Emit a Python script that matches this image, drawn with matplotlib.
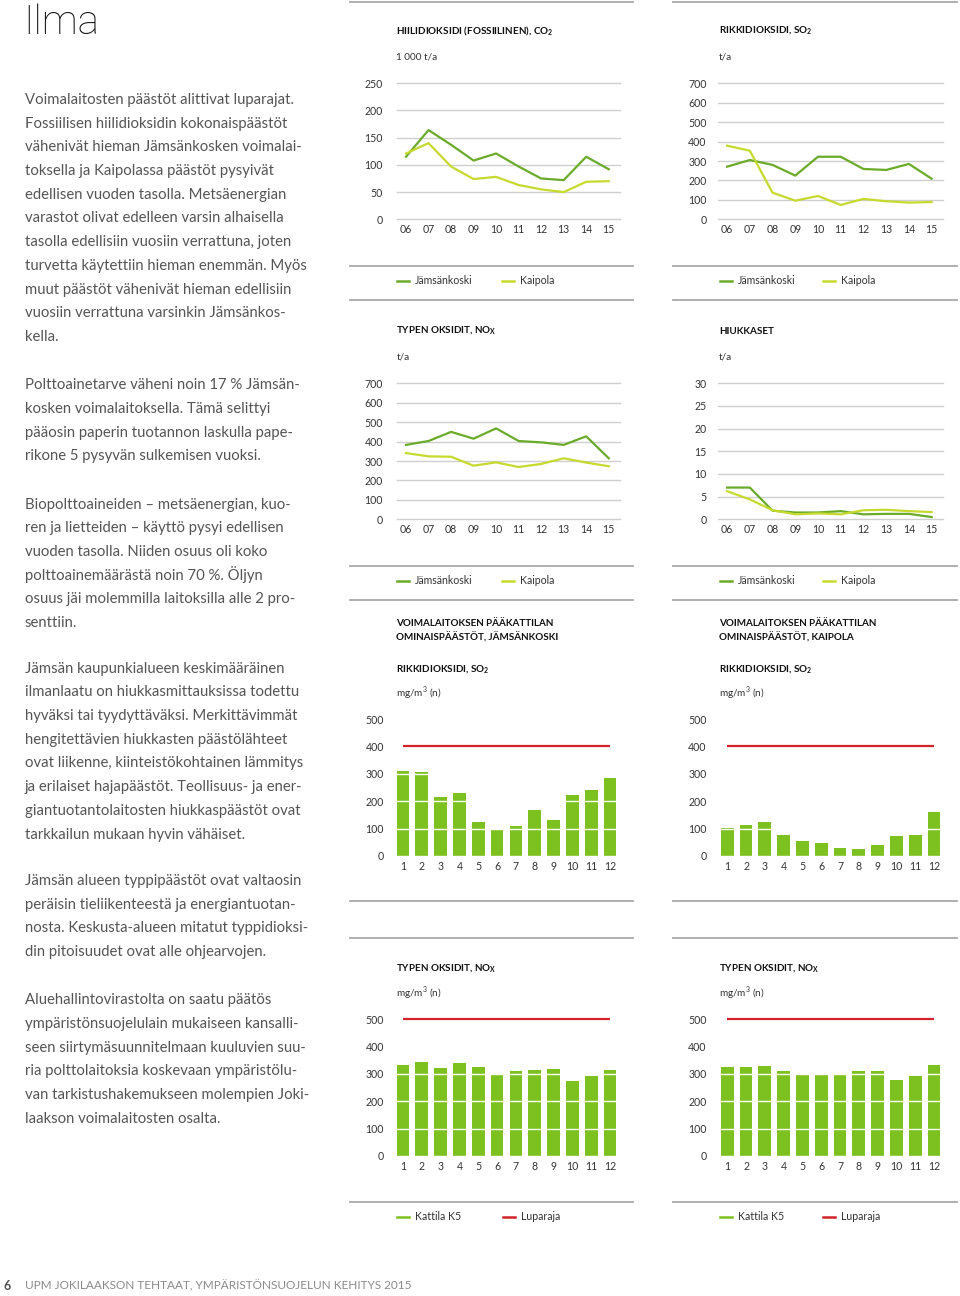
import matplotlib.pyplot as plt
from matplotlib.lines import Line2D
import numpy as np

plt.rcParams['font.family'] = ['Lato', 'DejaVu Sans']

# --- data ---
years = ['06', '07', '08', '09', '10', '11', '12', '13', '14', '15']
months = [str(m) for m in range(1, 13)]

co2_jamsankoski = [115, 164, 137, 108, 121, 97, 75, 72, 115, 92]
co2_kaipola = [121, 140, 97, 74, 78, 63, 55, 50, 69, 70]
so2_jamsankoski = [271, 305, 280, 225, 322, 322, 259, 254, 285, 209]
so2_kaipola = [379, 353, 137, 96, 120, 74, 105, 93, 86, 89]
nox_jamsankoski = [383, 403, 450, 415, 468, 403, 396, 383, 427, 314]
nox_kaipola = [341, 324, 322, 276, 293, 269, 285, 314, 292, 273]
hiuk_jamsankoski = [7.0, 7.0, 1.9, 1.5, 1.5, 1.8, 1.1, 1.2, 1.2, 0.5]
hiuk_kaipola = [6.2, 4.4, 2.0, 1.1, 1.3, 1.1, 2.0, 2.1, 1.8, 1.6]

so2_k5_jamsankoski = [310, 308, 217, 229, 124, 97, 109, 167, 131, 221, 242, 286]
so2_k5_kaipola = [102, 112, 125, 75, 54, 47, 28, 24, 39, 72, 75, 161]
nox_k5_jamsankoski = [332, 343, 321, 338, 326, 299, 310, 315, 319, 273, 291, 314]
nox_k5_kaipola = [326, 324, 328, 310, 300, 300, 296, 309, 311, 276, 292, 333]
so2_luparaja = 400
nox_luparaja = 500

p1 = ["Voimalaitosten päästöt alittivat luparajat.",
      "Fossiilisen hiilidioksidin kokonaispäästöt",
      "vähenivät hieman Jämsänkosken voimalai-",
      "toksella ja Kaipolassa päästöt pysyivät",
      "edellisen vuoden tasolla. Metsäenergian",
      "varastot olivat edelleen varsin alhaisella",
      "tasolla edellisiin vuosiin verrattuna, joten",
      "turvetta käytettiin hieman enemmän. Myös",
      "muut päästöt vähenivät hieman edellisiin",
      "vuosiin verrattuna varsinkin Jämsänkos-",
      "kella."]
p2 = ["Polttoainetarve väheni noin 17 % Jämsän-",
      "kosken voimalaitoksella. Tämä selittyi",
      "pääosin paperin tuotannon laskulla pape-",
      "rikone 5 pysyvän sulkemisen vuoksi."]
p3 = ["Biopolttoaineiden – metsäenergian, kuo-",
      "ren ja lietteiden – käyttö pysyi edellisen",
      "vuoden tasolla. Niiden osuus oli koko",
      "polttoainemäärästä noin 70 %. Öljyn",
      "osuus jäi molemmilla laitoksilla alle 2 pro-",
      "senttiin."]
p4 = ["Jämsän kaupunkialueen keskimääräinen",
      "ilmanlaatu on hiukkasmittauksissa todettu",
      "hyväksi tai tyydyttäväksi. Merkittävimmät",
      "hengitettävien hiukkasten päästölähteet",
      "ovat liikenne, kiinteistökohtainen lämmitys",
      "ja erilaiset hajapäästöt. Teollisuus- ja ener-",
      "giantuotantolaitosten hiukkaspäästöt ovat",
      "tarkkailun mukaan hyvin vähäiset."]
p5 = ["Jämsän alueen typpipäästöt ovat valtaosin",
      "peräisin tieliikenteestä ja energiantuotan-",
      "nosta. Keskusta-alueen mitatut typpidioksi-",
      "din pitoisuudet ovat alle ohjearvojen."]
p6 = ["Aluehallintovirastolta on saatu päätös",
      "ympäristönsuojelulain mukaiseen kansalli-",
      "seen siirtymäsuunnitelmaan kuuluvien suu-",
      "ria polttolaitoksia koskevaan ympäristölu-",
      "van tarkistushakemukseen molempien Joki-",
      "laakson voimalaitosten osalta."]

DARK = '#6aab2a'
LIME = '#c6da2e'
BAR = '#7cc11f'
RED = '#d2232a'
GRID = '#cfcfcf'
SEP = '#a9a9a9'
TXT = '#333333'

W, H = 960, 1296
fig = plt.figure(figsize=(9.6, 12.96), dpi=100)


def fx(x):
    return x / W


def fy(y):
    return 1 - y / H


def txt(x, y, s, **kw):
    kw.setdefault('va', 'center')
    kw.setdefault('ha', 'left')
    fig.text(fx(x), fy(y), s, **kw)


def hline(x0, x1, y, color=SEP, lw=1.3):
    fig.add_artist(Line2D([fx(x0), fx(x1)], [fy(y), fy(y)], color=color, lw=lw))


def make_axes(x0, x1, ytop, ybot, ypad_px, xpad_px=5):
    ax = fig.add_axes([fx(x0), fy(ybot), (x1 - x0) / W, (ybot - ytop) / H])
    for sp in ax.spines.values():
        sp.set_visible(False)
    ax.patch.set_alpha(0)
    ax.tick_params(length=0, labelsize=7.6, colors=TXT)
    ax.tick_params(axis='y', pad=ypad_px / 1.389)
    ax.tick_params(axis='x', pad=xpad_px / 1.389)
    return ax


def line_chart(x0, x1, ytop, ybot, ypad, s1, s2, ymax, step):
    ax = make_axes(x0, x1, ytop, ybot, ypad)
    xs = np.arange(len(years))
    ax.plot(xs, s1, color=DARK, lw=1.6, clip_on=False, zorder=3)
    ax.plot(xs, s2, color=LIME, lw=1.6, clip_on=False, zorder=3)
    ax.set_xlim(-0.4, 9.5)
    ax.set_ylim(0, ymax)
    ax.set_yticks(np.arange(0, ymax + 1, step))
    ax.set_xticks(xs, years)
    ax.set_axisbelow(True)
    ax.grid(axis='y', color=GRID, lw=1.0)
    ax.grid(axis='x', visible=False)
    for g in ax.get_ygridlines():
        g.set_clip_on(False)
    return ax


def bar_chart(x0, x1, ytop, ybot, ypad, vals, limit):
    ax = make_axes(x0, x1, ytop, ybot, ypad, xpad_px=5.5)
    xs = np.arange(1, 13)
    ax.bar(xs, vals, width=0.68, color=BAR, zorder=1)
    ax.hlines(limit, 1, 12, color=RED, lw=1.6, zorder=5, clip_on=False)
    ax.set_xlim(0.5, 12.5)
    ax.set_ylim(0, 500)
    ax.set_yticks(np.arange(0, 501, 100))
    ax.set_xticks(xs, months)
    ax.set_axisbelow(False)
    ax.grid(axis='y', color='white', lw=1.0)
    ax.grid(axis='x', visible=False)
    return ax


def legend(y, items):
    for x, color, label in items:
        hline(x, x + 12, y, color=color, lw=1.8)
        txt(x + 18, y, label, fontsize=7.6, color=TXT)


# --- left text column ---
txt(23, 23, "Ilma", fontsize=29, color='#111111', fontweight='light',
    family=['Roboto', 'Lato', 'DejaVu Sans'])

body = dict(fontsize=10.7, color='#555555', va='baseline')
for lines, base in [(p1, 104), (p2, 389.3), (p3, 508.7), (p4, 672.7), (p5, 885), (p6, 1004.3)]:
    for i, s in enumerate(lines):
        txt(25, base + i * 23.7, s, **body)

txt(3, 1286, "6", fontsize=9, color='#555555', fontweight='bold')
txt(25, 1286, "UPM JOKILAAKSON TEHTAAT, YMPÄRISTÖNSUOJELUN KEHITYS 2015",
    fontsize=8.5, color='#8a8a8a')

# --- separators ---
for y in [2, 266, 300, 566, 600, 901, 938, 1202]:
    hline(350, 633, y)
    hline(673, 957, y)

title = dict(fontsize=7.1, fontweight='bold', color='#111111')
unit = dict(fontsize=7.2, color=TXT)

# chart 1: CO2
txt(396.5, 31, "HIILIDIOKSIDI (FOSSIILINEN), CO$_\\mathregular{2}$", **title)
txt(396.5, 57, "1 000 t/a", **unit)
line_chart(397, 620, 83.3, 219.3, 14, co2_jamsankoski, co2_kaipola, 250, 50)
legend(281, [(397, DARK, "Jämsänkoski"), (502, LIME, "Kaipola")])

# chart 2: SO2
txt(719, 31, "RIKKIDIOKSIDI, SO$_\\mathregular{2}$", **title)
txt(719, 57, "t/a", **unit)
line_chart(718, 943, 83.3, 219.3, 11.3, so2_jamsankoski, so2_kaipola, 700, 100)
legend(281, [(720, DARK, "Jämsänkoski"), (823, LIME, "Kaipola")])

# chart 3: NOx
txt(396.5, 331, "TYPEN OKSIDIT, NO$_\\mathregular{X}$", **title)
txt(396.5, 357, "t/a", **unit)
line_chart(397, 620, 383.3, 519.3, 14, nox_jamsankoski, nox_kaipola, 700, 100)
legend(581, [(397, DARK, "Jämsänkoski"), (502, LIME, "Kaipola")])

# chart 4: hiukkaset
txt(719, 331, "HIUKKASET", **title)
txt(719, 357, "t/a", **unit)
line_chart(718, 943, 383.3, 519.3, 11.3, hiuk_jamsankoski, hiuk_kaipola, 30, 5)
legend(581, [(720, DARK, "Jämsänkoski"), (823, LIME, "Kaipola")])

# chart 5/6: SO2 bars
for x, name in [(396.5, "JÄMSÄNKOSKI"), (719, "KAIPOLA")]:
    txt(x, 623, "VOIMALAITOKSEN PÄÄKATTILAN", **title)
    txt(x, 637, "OMINAISPÄÄSTÖT, " + name, **title)
    txt(x, 670, "RIKKIDIOKSIDI, SO$_\\mathregular{2}$", **title)
    txt(x, 693, "mg/m$^\\mathregular{3}$ (n)", **unit)
bar_chart(393.6, 619.4, 719, 856, 9.6, so2_k5_jamsankoski, so2_luparaja)
bar_chart(717.9, 943.4, 719, 856, 11.2, so2_k5_kaipola, so2_luparaja)

# chart 7/8: NOx bars
for x in [396.5, 719]:
    txt(x, 969, "TYPEN OKSIDIT, NO$_\\mathregular{X}$", **title)
    txt(x, 993, "mg/m$^\\mathregular{3}$ (n)", **unit)
bar_chart(393.6, 619.4, 1019, 1156, 9.6, nox_k5_jamsankoski, nox_luparaja)
bar_chart(717.9, 943.4, 1019, 1156, 11.2, nox_k5_kaipola, nox_luparaja)

legend(1217, [(397, BAR, "Kattila K5"), (503, RED, "Luparaja")])
legend(1217, [(720, BAR, "Kattila K5"), (823, RED, "Luparaja")])

plt.savefig('out.png', dpi=100, facecolor='white')
plt.close()
